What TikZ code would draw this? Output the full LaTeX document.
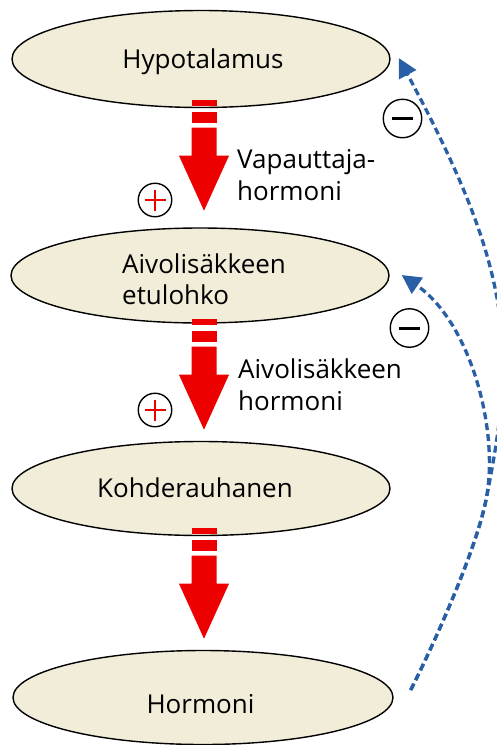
\documentclass[tikz,border=0pt]{standalone}
\usepackage{fontspec}
\setmainfont{Open Sans}
\usetikzlibrary{shapes.geometric,arrows.meta,calc}
\definecolor{beige}{RGB}{242,237,217}
\definecolor{fbblue}{RGB}{40,95,165}
\definecolor{arrred}{RGB}{236,0,0}
\begin{document}
\begin{tikzpicture}[x=1pt,y=-1pt,
  organ/.style={ellipse,draw=black,line width=1.4pt,fill=beige,minimum width=378pt,minimum height=94pt,inner sep=0pt},
  txt/.style={font=\fontsize{26}{31}\selectfont,inner sep=0pt,anchor=base west},
  ctxt/.style={txt,anchor=base},
  signbox/.style={circle,draw=black,line width=1.4pt,inner sep=0pt},
  plusline/.style={draw=arrred,line width=2.8pt},
  minusline/.style={draw=black,line width=3pt},
  fb/.style={draw=fbblue,line width=3.3pt,dash pattern=on 7pt off 4pt,-{Triangle[length=19pt,width=19pt]}},
  fatarrow/.pic={
    \fill[arrred] (-12.5,0) rectangle (12.5,6);
    \fill[arrred] (-12.5,12) rectangle (12.5,23);
    \fill[arrred] (-12.5,28) -- (12.5,28) -- (12.5,56) -- (25,56) -- (0,111) -- (-25,56) -- (-12.5,56) -- cycle;
  }]
\useasboundingbox (0,0) rectangle (497,745);
\clip (0,0) rectangle (497,745);

% organs
\node[organ,minimum height=97pt] (hyp) at (201,59) {};
\node[organ,minimum height=95pt] (aiv) at (200,275.5) {};
\node[organ] (koh) at (201,488.5) {};
\node[organ,minimum width=380pt] (hor) at (203,697.5) {};

% texts in organs
\node[ctxt] (thyp) at (203,68) {Hypotalamus};
\node[txt] (taiv1) at (122,273) {Aivolisäkkeen};
\node[txt] (taiv2) at (122,304) {etulohko};
\node[txt] (tkoh) at (97,497) {Kohderauhanen};
\node[ctxt] (thor) at (200.5,713) {Hormoni};

% red stimulating arrows
\pic at ($(hyp.south)+(3,-8.5)$) {fatarrow};
\pic at ($(aiv.south)+(4,-5)$) {fatarrow};
\pic at ($(koh.south)+(3,-8.5)$) {fatarrow};

% arrow labels
\node[txt] (l1a) at (237,168) {Vapauttaja-};
\node[txt] (l1b) at (237,200) {hormoni};
\node[txt] (l2a) at (238,378) {Aivolisäkkeen};
\node[txt] (l2b) at (238,410) {hormoni};

% plus signs
\node[signbox,minimum size=33.5pt] (p1) at (155,200) {};
\node[signbox,minimum size=33.5pt] (p2) at (155,410) {};
\foreach \p in {p1,p2}{
  \path[plusline] ($(\p)+(-10.5,0)$) -- ($(\p)+(10.5,0)$);
  \path[plusline] ($(\p)+(0,-10.5)$) -- ($(\p)+(0,10.5)$);
}

% minus signs
\node[signbox,minimum size=38.5pt] (m1) at (402.5,118.5) {};
\node[signbox,minimum size=38.5pt] (m2) at (409.5,328) {};
\foreach \m in {m1,m2}{
  \path[minusline] ($(\m)+(-10.5,0)$) -- ($(\m)+(10.5,0)$);
}

% feedback arrows (shared lower part, then branching)
\coordinate (fbstart) at ($(hor.east)+(17,-7.5)$);
\coordinate (branch) at (486,500);
\coordinate (tip1) at ($(hyp.east)+(8,-1)$);
\coordinate (tip2) at ($(aiv.east)+(12,-0.5)$);
\draw[fb] (fbstart) .. controls (435,642) and (476,550) .. (branch)
  .. controls (516,350) and (515,274) .. (tip1);
\draw[fb] (fbstart) .. controls (435,642) and (476,550) .. (branch)
  .. controls (500,430) and (470,322) .. (tip2);
\end{tikzpicture}
\end{document}
